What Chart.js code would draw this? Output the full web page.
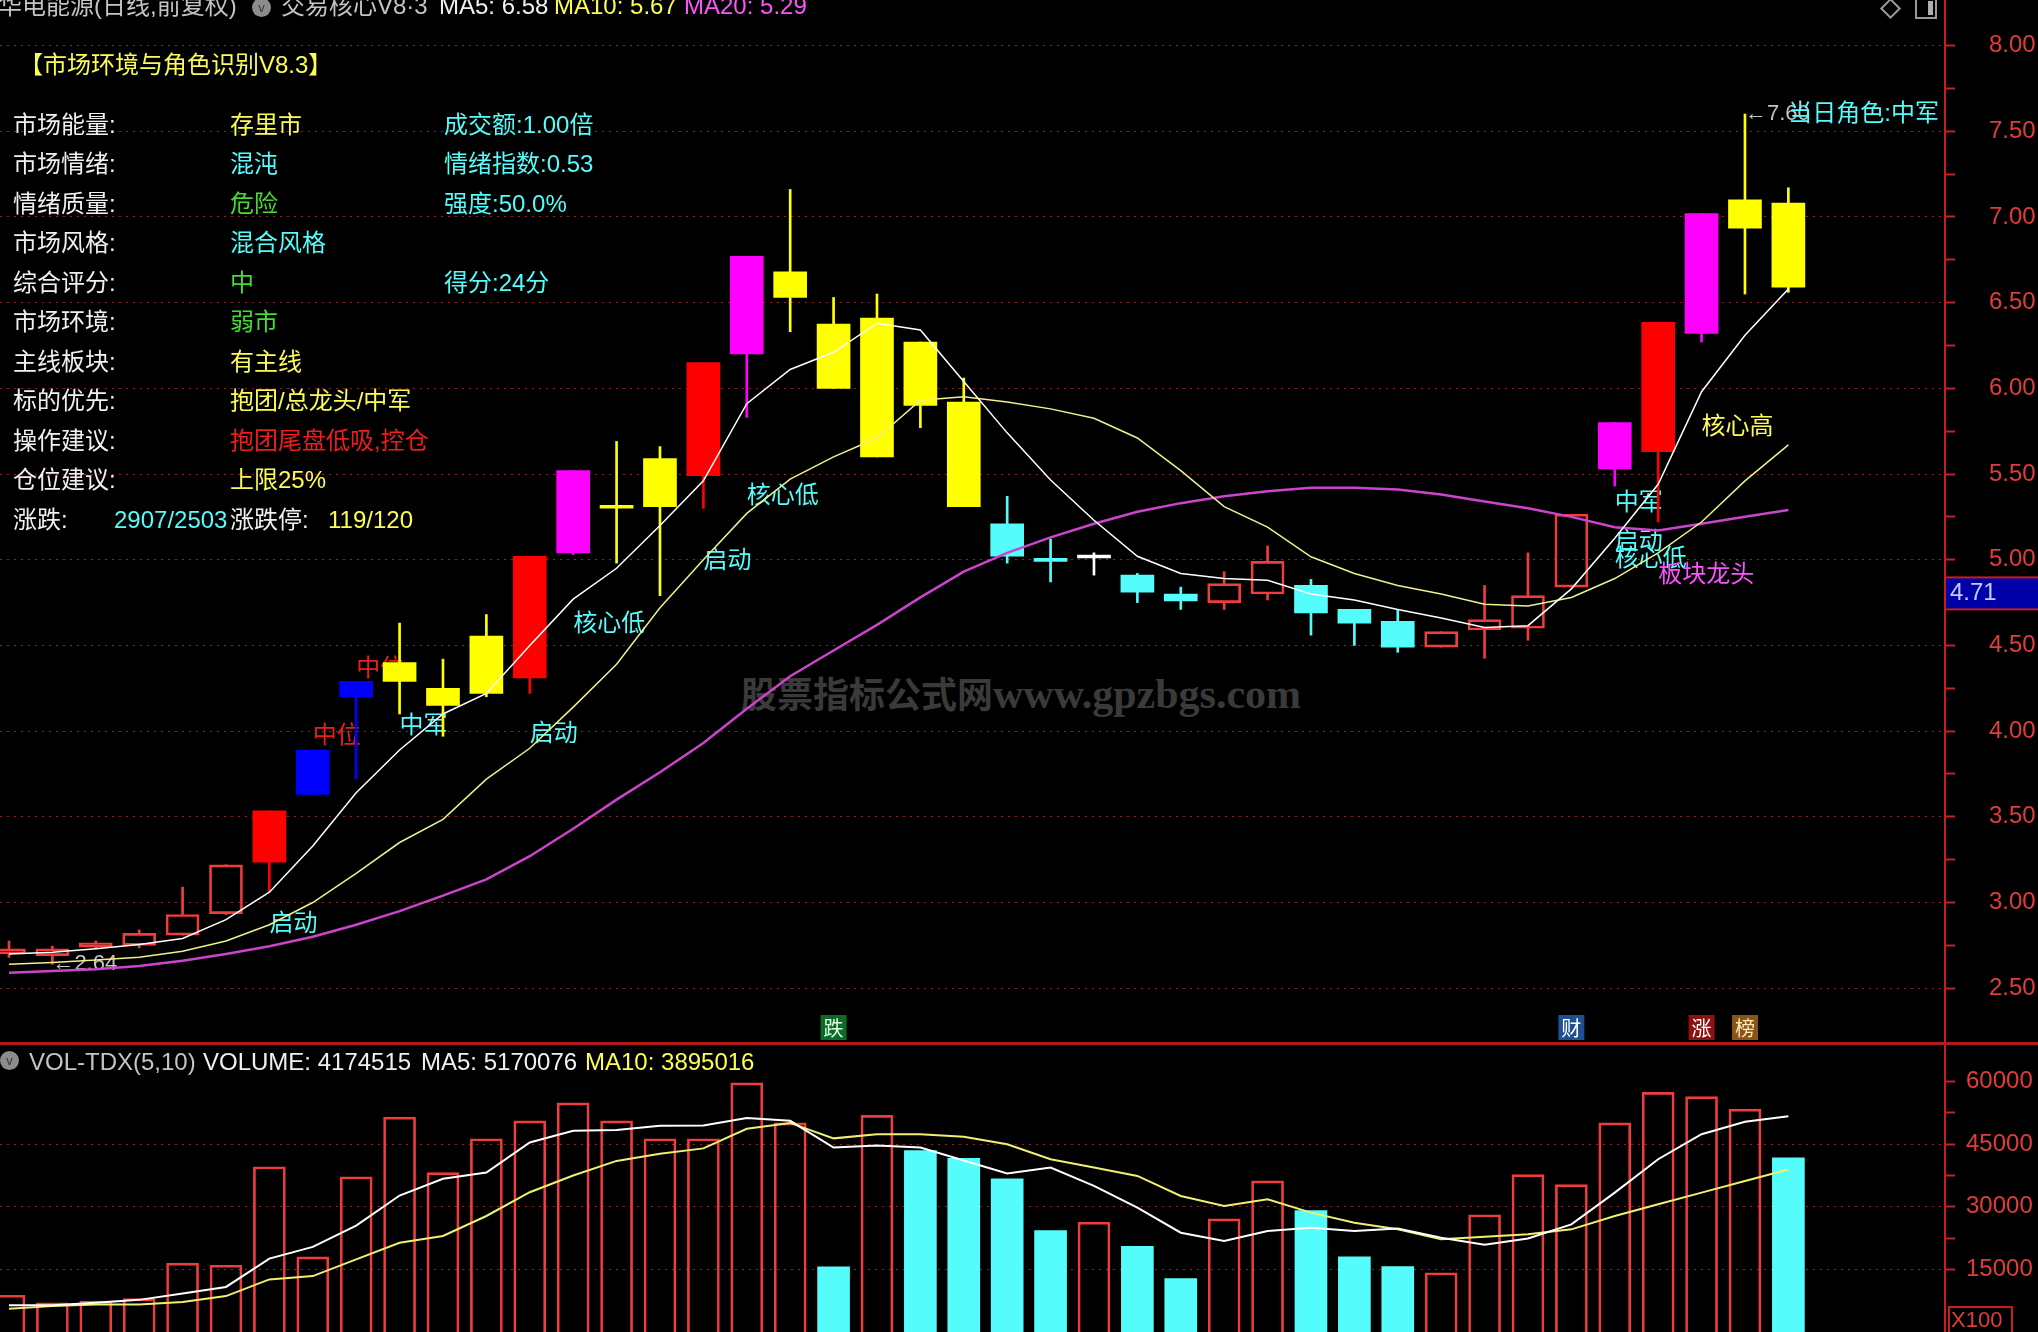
<!DOCTYPE html>
<html lang="zh-CN">
<head>
<meta charset="utf-8">
<title>华电能源 日线 · 交易核心V8·3</title>
<script src="https://cdn.jsdelivr.net/npm/chart.js@4.4.1/dist/chart.umd.min.js"></script>
<style>
    html, body { margin: 0; padding: 0; background: #000; }
    body {
        position: relative; width: 2038px; height: 1332px; overflow: hidden;
        font-family: "Liberation Sans", "Noto Sans CJK SC", sans-serif;
        font-size: 24px; line-height: 24px; color: #eeeeee;
    }
    .t { position: absolute; white-space: nowrap; }
    #price-canvas { position: absolute; left: 0; top: 0; }
    #vol-canvas { position: absolute; left: 0; top: 1043px; }
    .divider { position: absolute; left: 0; top: 1042px; width: 2038px; height: 3px; background: #b01c1c; }
    .watermark { position: absolute; left: 741px; top: 672px; color: #3a3a3a; font-weight: bold; white-space: nowrap; }
    .watermark .cjk { font-family: "Noto Sans CJK SC"; font-size: 36px; line-height: 40px; }
    .watermark .url { font-family: "Liberation Serif", serif; font-size: 42px; line-height: 40px; }
    .knob { position: absolute; width: 19px; height: 19px; border-radius: 50%; background: #8c8c8c;
            color: #3a3a3a; font-size: 13px; line-height: 19px; text-align: center; }
    .diamond { position: absolute; left: 1883px; top: 1px; width: 11px; height: 11px; border: 2px solid #9a9a9a; transform: rotate(45deg); }
    .winbox { position: absolute; left: 1915px; top: -3px; width: 18px; height: 18px; border: 2px solid #9a9a9a; }
    .winbox i { position: absolute; right: 2px; top: 2px; width: 5px; height: 14px; background: #b0b0b0; }
    .white { color: #f0f0f0; } .gray { color: #c4c4c4; }
    .yellow { color: #fcfc54; } .cyan { color: #54fcfc; } .green { color: #44dd33; }
    .red { color: #ee1c1c; } .magenta { color: #fc54fc; }
</style>
</head>
<body>

<div class="watermark"><span class="cjk">股票指标公式网</span><span class="url">www.gpzbgs.com</span></div>

<canvas id="price-canvas" width="2038" height="1043"></canvas>
<canvas id="vol-canvas" width="2038" height="289"></canvas>
<div class="divider"></div>

<!-- 主图标题 -->
<div class="t gray" style="left:-2px; top:-6px;">华电能源(日线,前复权)</div>
<div class="knob" style="left:252px; top:-2px;">v</div>
<div class="t gray" style="left:281px; top:-6px;">交易核心V8·3</div>
<div class="t white" style="left:439px; top:-6px;">MA5: 6.58</div>
<div class="t yellow" style="left:554px; top:-6px;">MA10: 5.67</div>
<div class="t magenta" style="left:684px; top:-6px;">MA20: 5.29</div>
<div class="diamond"></div>
<div class="winbox"><i></i></div>

<!-- 副图标题 -->
<div class="knob" style="left:0px; top:1051px;">v</div>
<div class="t gray" style="left:29px; top:1050px;">VOL-TDX(5,10)</div>
<div class="t white" style="left:203px; top:1050px;">VOLUME: 4174515</div>
<div class="t white" style="left:421px; top:1050px;">MA5: 5170076</div>
<div class="t yellow" style="left:585px; top:1050px;">MA10: 3895016</div>

<div id="panel"></div>

<script>
// --- 日线行情 (42 根K线) ---
const days = [1, 2, 3, 4, 5, 6, 7, 8, 9, 10, 11, 12, 13, 14, 15, 16, 17, 18, 19, 20, 21,
              22, 23, 24, 25, 26, 27, 28, 29, 30, 31, 32, 33, 34, 35, 36, 37, 38, 39, 40, 41, 42];

const openP  = [2.70, 2.69, 2.74, 2.75, 2.81, 2.935, 3.235, 3.63, 4.20, 4.29, 4.15, 4.22, 4.31, 5.04,
                5.30, 5.31, 5.49, 6.20, 6.53, 6.375, 5.60, 6.27, 5.92, 5.21, 5.00, 5.01, 4.91, 4.80,
                4.75, 4.80, 4.85, 4.71, 4.64, 4.49, 4.59, 4.60, 4.84, 5.53, 5.63, 6.32, 6.935, 7.08];
const highP  = [2.775, 2.745, 2.775, 2.84, 3.09, 3.22, 3.535, 3.89, 4.29, 4.63, 4.42, 4.68, 5.02, 5.52,
                5.69, 5.66, 6.15, 6.77, 7.16, 6.53, 6.55, 6.27, 6.06, 5.37, 5.12, 5.04, 4.92, 4.84,
                4.93, 5.08, 4.885, 4.71, 4.71, 4.58, 4.85, 5.04, 5.265, 5.80, 6.385, 7.02, 7.60, 7.17];
const lowP   = [2.68, 2.64, 2.73, 2.735, 2.81, 2.93, 3.06, 3.63, 3.72, 4.10, 3.97, 4.20, 4.22, 5.03,
                4.98, 4.79, 5.30, 5.83, 6.33, 6.00, 5.60, 5.77, 5.31, 4.98, 4.87, 4.91, 4.75, 4.71,
                4.71, 4.765, 4.56, 4.50, 4.46, 4.49, 4.425, 4.53, 4.84, 5.43, 5.22, 6.27, 6.55, 6.56];
const closeP = [2.73, 2.73, 2.765, 2.82, 2.93, 3.22, 3.535, 3.89, 4.29, 4.40, 4.25, 4.555, 5.02, 5.52,
                5.31, 5.59, 6.15, 6.77, 6.68, 6.00, 6.41, 5.90, 5.31, 5.02, 4.99, 5.01, 4.81, 4.76,
                4.86, 4.99, 4.69, 4.63, 4.49, 4.58, 4.65, 4.79, 5.265, 5.80, 6.385, 7.02, 7.10, 6.59];

// 指标着色: up=空心阳线, down=阴线, flat=平盘, 其余为角色颜色
const candleKind = ["up", "up", "up", "up", "up", "up", "red", "blue", "blue", "yellow", "yellow", "yellow",
                    "red", "magenta", "yellow", "yellow", "red", "magenta", "yellow", "yellow", "yellow",
                    "yellow", "yellow", "down", "down", "flat", "down", "down", "up", "up", "down", "down",
                    "down", "up", "up", "up", "up", "magenta", "red", "magenta", "yellow", "yellow"];

const ma5  = [2.70, 2.71, 2.73, 2.755, 2.79, 2.90, 3.06, 3.33, 3.64, 3.89, 4.10, 4.22, 4.50, 4.77,
              4.95, 5.20, 5.46, 5.91, 6.11, 6.21, 6.38, 6.34, 6.04, 5.74, 5.465, 5.23, 5.02, 4.92,
              4.89, 4.88, 4.80, 4.765, 4.71, 4.66, 4.605, 4.615, 4.83, 5.125, 5.44, 5.98, 6.31, 6.58];
const ma10 = [2.64, 2.65, 2.665, 2.68, 2.715, 2.775, 2.87, 3.00, 3.17, 3.35, 3.485, 3.72, 3.90, 4.14,
              4.39, 4.72, 5.00, 5.27, 5.47, 5.60, 5.71, 5.93, 5.95, 5.92, 5.88, 5.825, 5.71, 5.52,
              5.31, 5.19, 5.017, 4.92, 4.85, 4.80, 4.74, 4.73, 4.78, 4.89, 5.04, 5.22, 5.46, 5.67];
const ma20 = [2.59, 2.60, 2.61, 2.63, 2.66, 2.70, 2.745, 2.80, 2.87, 2.95, 3.04, 3.135, 3.27, 3.43,
              3.60, 3.76, 3.93, 4.13, 4.32, 4.47, 4.62, 4.78, 4.93, 5.04, 5.13, 5.21, 5.28, 5.33,
              5.37, 5.40, 5.42, 5.42, 5.41, 5.38, 5.34, 5.30, 5.25, 5.19, 5.17, 5.21, 5.25, 5.29];

// --- 成交量 (X100) ---
const volume  = [8800, 7000, 7400, 8000, 16500, 16000, 39600, 18000, 37200, 51500, 38200, 46300, 50600, 54900,
                 50600, 46300, 46300, 59700, 50100, 15600, 51900, 43500, 41600, 36700, 24300, 26300, 20500, 12800,
                 27100, 36200, 29100, 18000, 15700, 14200, 28100, 37700, 35300, 50100, 57400, 56400, 53400, 41745];
const volMa5  = [6400, 6400, 7000, 7700, 9200, 10800, 17600, 20400, 25500, 32700, 36700, 38200, 45400, 48200,
                 48400, 49400, 49500, 51300, 50600, 44200, 44700, 44200, 41100, 38000, 39400, 35000, 29800, 23800,
                 21800, 24200, 25000, 24200, 24800, 22600, 20900, 22400, 25800, 33400, 41400, 47400, 50400, 51700];
const volMa10 = [5600, 6200, 6600, 6600, 7200, 8600, 12600, 13400, 17400, 21400, 23000, 27800, 33500, 37500,
                 41000, 42700, 44000, 48700, 50100, 46400, 47400, 47400, 46800, 45000, 41400, 39400, 37400, 32600,
                 30200, 31800, 28600, 26200, 24600, 22200, 22800, 23400, 24600, 27800, 30600, 33400, 36200, 38950];

// --- 坐标刻度 ---
const priceTicks = [2.50, 3.00, 3.50, 4.00, 4.50, 5.00, 5.50, 6.00, 6.50, 7.00, 7.50, 8.00];
const priceMinorTicks = [2.75, 3.25, 3.75, 4.25, 4.75, 5.25, 5.75, 6.25, 6.75, 7.25, 7.75];
const volTicks = [15000, 30000, 45000, 60000];
const volMinorTicks = [22500, 37500, 52500];
const volGridTicks = [15000, 30000, 45000];
const cursorPrice = 4.71;

// --- 信号文字 ---
const signals = [
    { day: 7,  price: 2.87, text: "启动",     tone: "cyan" },
    { day: 8,  price: 3.97, text: "中位",     tone: "red" },
    { day: 9,  price: 4.36, text: "中位",     tone: "red" },
    { day: 10, price: 4.03, text: "中军",     tone: "cyan" },
    { day: 13, price: 3.98, text: "启动",     tone: "cyan" },
    { day: 14, price: 4.62, text: "核心低",   tone: "cyan" },
    { day: 17, price: 4.99, text: "启动",     tone: "cyan" },
    { day: 18, price: 5.37, text: "核心低",   tone: "cyan" },
    { day: 38, price: 5.33, text: "中军",     tone: "cyan" },
    { day: 38, price: 5.10, text: "启动",     tone: "cyan" },
    { day: 38, price: 5.00, text: "核心低",   tone: "cyan" },
    { day: 39, price: 4.91, text: "板块龙头", tone: "magenta" },
    { day: 40, price: 5.77, text: "核心高",   tone: "yellow" }
];
const extremes = [
    { day: 2,  price: 2.64, text: "←2.64" },
    { day: 41, price: 7.60, text: "←7.60" }
];
const roleNote = { day: 42, price: 7.60, text: "当日角色:中军" };
const badges = [
    { day: 20, text: "跌", tone: "green" },
    { day: 37, text: "财", tone: "blue" },
    { day: 40, text: "涨", tone: "red" },
    { day: 41, text: "榜", tone: "brown" }
];

// --- 左侧信息面板 ---
const panelTitle = "【市场环境与角色识别V8.3】";
const panelLabels = ["市场能量:", "市场情绪:", "情绪质量:", "市场风格:", "综合评分:", "市场环境:", "主线板块:", "标的优先:", "操作建议:", "仓位建议:"];
const panelValues = ["存里市", "混沌", "危险", "混合风格", "中", "弱市", "有主线", "抱团/总龙头/中军", "抱团尾盘低吸,控仓", "上限25%"];
const panelTones  = ["yellow", "cyan", "green", "cyan", "green", "green", "yellow", "yellow", "red", "yellow"];
const panelNotes  = ["成交额:1.00倍", "情绪指数:0.53", "强度:50.0%", "", "得分:24分", "", "", "", "", ""];
const breadth = { label: "涨跌:", value: "2907/2503", limitLabel: "涨跌停:", limitValue: "119/120" };

// --- 样式 ---
const toneColors = {
    cyan: "#54fcfc", red: "#ee1c1c", yellow: "#fcfc54", magenta: "#fc54fc", gray: "#c4c4c4"
};
const candleStyle = {
    up:      { fill: "rgba(0,0,0,0)", edge: "#f03c3c", border: 2 },
    down:    { fill: "#54fcfc", edge: "#54fcfc", border: 0 },
    flat:    { fill: "#ffffff", edge: "#ffffff", border: 0 },
    red:     { fill: "#ff0000", edge: "#ff0000", border: 0 },
    blue:    { fill: "#0000ff", edge: "#0000ff", border: 0 },
    yellow:  { fill: "#ffff00", edge: "#ffff00", border: 0 },
    magenta: { fill: "#ff00ff", edge: "#ff00ff", border: 0 }
};
const badgeStyle = {
    green: { bg: "#0d6b2a", color: "#dfffdf" },
    blue:  { bg: "#1f4f8f", color: "#ffffff" },
    red:   { bg: "#8c1212", color: "#ffffff" },
    brown: { bg: "#8a5514", color: "#ffe8c0" }
};
const AXIS_RED = "#c81e1e";
const GRID_RED = "#9a1e1e";
const LABEL_RED = "#e03c3c";
const X_MIN = -0.207, X_MAX = 44.609;

document.addEventListener("DOMContentLoaded", () => {
    renderPanel();
    initPriceChart();
    initVolumeChart();
});

function renderPanel() {
    const panel = document.getElementById("panel");
    let html = `<div class="t yellow" style="left:19px; top:53px;">${panelTitle}</div>`;
    panelLabels.forEach((label, i) => {
        const top = 112.5 + i * 39.5;
        html += `<div class="t white" style="left:13px; top:${top}px;">${label}</div>`;
        html += `<div class="t ${panelTones[i]}" style="left:230px; top:${top}px;">${panelValues[i]}</div>`;
        if (panelNotes[i]) html += `<div class="t cyan" style="left:444px; top:${top}px;">${panelNotes[i]}</div>`;
    });
    const top = 112.5 + 10 * 39.5;
    html += `<div class="t white" style="left:13px; top:${top}px;">${breadth.label}</div>`;
    html += `<div class="t cyan" style="left:114px; top:${top}px;">${breadth.value}</div>`;
    html += `<div class="t white" style="left:230px; top:${top}px;">${breadth.limitLabel}</div>`;
    html += `<div class="t yellow" style="left:328px; top:${top}px;">${breadth.limitValue}</div>`;
    panel.innerHTML = html;
}

const toXY = arr => arr.map((v, i) => ({ x: i, y: v }));

function rightAxis(min, max, major, minor, gridded, padding) {
    const all = major.concat(minor).sort((a, b) => a - b);
    return {
        position: "right", min, max, bounds: "data",
        afterBuildTicks: scale => { scale.ticks = all.map(v => ({ value: v })); },
        afterFit: scale => { scale.width = 93; scale.paddingTop = 0; scale.paddingBottom = 0; },
        border: { display: true, color: AXIS_RED, width: 2, dash: [2, 5] },
        grid: {
            drawOnChartArea: true, drawTicks: true, tickLength: 10, lineWidth: 1,
            color: c => gridded.includes(c.tick.value) ? GRID_RED : "rgba(0,0,0,0)",
            tickColor: AXIS_RED, tickWidth: 2, tickBorderDash: []
        },
        ticks: {
            autoSkip: false, padding, crossAlign: "near", color: LABEL_RED,
            font: { family: '"Liberation Sans", Arial', size: 24 },
            callback: v => major.includes(v) ? (max < 100 ? v.toFixed(2) : String(v)) : ""
        }
    };
}

// 信号文字 / 标记在K线之前绘制
const signalPlugin = {
    id: "signals",
    beforeDatasetsDraw(chart) {
        const { ctx, scales: { x, y } } = chart;
        ctx.save();
        ctx.textBaseline = "middle";
        ctx.textAlign = "left";
        ctx.font = '22px "Liberation Sans", "Noto Sans CJK SC"';
        ctx.fillStyle = toneColors.gray;
        extremes.forEach(e => ctx.fillText(e.text, x.getPixelForValue(e.day - 1), y.getPixelForValue(e.price)));
        ctx.font = '24px "Liberation Sans", "Noto Sans CJK SC"';
        signals.forEach(s => {
            ctx.fillStyle = toneColors[s.tone];
            ctx.fillText(s.text, x.getPixelForValue(s.day - 1), y.getPixelForValue(s.price));
        });
        ctx.fillStyle = toneColors.cyan;
        ctx.fillText(roleNote.text, x.getPixelForValue(roleNote.day - 1), y.getPixelForValue(roleNote.price));
        ctx.restore();
    },
    afterDraw(chart) {
        const { ctx, chartArea, scales: { x, y } } = chart;
        ctx.save();
        ctx.font = '20px "Noto Sans CJK SC"';
        ctx.textAlign = "center";
        ctx.textBaseline = "middle";
        badges.forEach(b => {
            const cx = x.getPixelForValue(b.day - 1);
            const st = badgeStyle[b.tone];
            ctx.fillStyle = st.bg;
            ctx.fillRect(cx - 13, chartArea.bottom - 28, 26, 25);
            ctx.fillStyle = st.color;
            ctx.fillText(b.text, cx, chartArea.bottom - 15);
        });
        // 当前价格标签
        const py = y.getPixelForValue(cursorPrice);
        ctx.fillStyle = "#0000a8";
        ctx.fillRect(chartArea.right + 1, py - 32, chart.width - chartArea.right, 32);
        ctx.fillStyle = AXIS_RED;
        ctx.fillRect(chartArea.right + 1, py - 33, chart.width - chartArea.right, 2);
        ctx.fillRect(chartArea.right + 1, py - 1, chart.width - chartArea.right, 2);
        ctx.fillStyle = "#c8c8ff";
        ctx.textAlign = "left";
        ctx.font = '24px "Liberation Sans"';
        ctx.fillText(cursorPrice.toFixed(2), chartArea.right + 5, py - 16);
        ctx.restore();
    }
};

function initPriceChart() {
    const kind = c => candleStyle[candleKind[c.dataIndex]];
    const bodyTop = days.map((d, i) => Math.max(openP[i], closeP[i]));
    const bodyBottom = days.map((d, i) => Math.min(openP[i], closeP[i]));

    new Chart(document.getElementById("price-canvas"), {
        type: "bar",
        data: {
            datasets: [
                { type: "line", label: "MA5", data: toXY(ma5), borderColor: "#ffffff", borderWidth: 1.5, pointRadius: 0, tension: 0, order: 0 },
                { type: "line", label: "MA10", data: toXY(ma10), borderColor: "#f0f08c", borderWidth: 1.5, pointRadius: 0, tension: 0, order: 0 },
                { type: "line", label: "MA20", data: toXY(ma20), borderColor: "#cc44cc", borderWidth: 2.5, pointRadius: 0, tension: 0, order: 0 },
                {
                    label: "实体",
                    data: days.map((d, i) => ({ x: i, y: [openP[i], closeP[i]] })),
                    grouped: false, barThickness: 33, minBarLength: 3, borderSkipped: false,
                    backgroundColor: c => kind(c).fill, borderColor: c => kind(c).edge, borderWidth: c => kind(c).border,
                    order: 1
                },
                {
                    label: "上影线",
                    data: days.map((d, i) => ({ x: i, y: [bodyTop[i], highP[i]] })),
                    grouped: false, barThickness: 2, borderWidth: 0,
                    backgroundColor: c => kind(c).edge, order: 2
                },
                {
                    label: "下影线",
                    data: days.map((d, i) => ({ x: i, y: [lowP[i], bodyBottom[i]] })),
                    grouped: false, barThickness: 2, borderWidth: 0,
                    backgroundColor: c => kind(c).edge, order: 2
                }
            ]
        },
        options: {
            responsive: false,
            animation: false,
            events: [],
            layout: { padding: 0 },
            plugins: { legend: { display: false }, tooltip: { enabled: false } },
            scales: {
                x: { type: "linear", min: X_MIN, max: X_MAX, display: false, offset: false },
                y: rightAxis(2.1803, 8.2655, priceTicks, priceMinorTicks, priceTicks, 34)
            }
        },
        plugins: [signalPlugin]
    });
}

const volumePlugin = {
    id: "x100",
    afterDraw(chart) {
        const { ctx, chartArea } = chart;
        ctx.save();
        ctx.strokeStyle = AXIS_RED;
        ctx.lineWidth = 2;
        ctx.strokeRect(chartArea.right + 4, chart.height - 25, 63, 26);
        ctx.fillStyle = LABEL_RED;
        ctx.font = '22px "Liberation Sans"';
        ctx.textBaseline = "middle";
        ctx.fillText("X100", chartArea.right + 6, chart.height - 11);
        ctx.restore();
    }
};

function initVolumeChart() {
    const rising = c => closeP[c.dataIndex] >= openP[c.dataIndex];

    new Chart(document.getElementById("vol-canvas"), {
        type: "bar",
        data: {
            datasets: [
                { type: "line", label: "MA5", data: toXY(volMa5), borderColor: "#ffffff", borderWidth: 2, pointRadius: 0, tension: 0, order: 0 },
                { type: "line", label: "MA10", data: toXY(volMa10), borderColor: "#f0f070", borderWidth: 2, pointRadius: 0, tension: 0, order: 0 },
                {
                    label: "VOLUME",
                    data: toXY(volume),
                    grouped: false, barThickness: 32, borderSkipped: "start",
                    backgroundColor: c => rising(c) ? "rgba(0,0,0,0)" : "#54fcfc",
                    borderColor: c => rising(c) ? "#f03c3c" : "#54fcfc",
                    borderWidth: c => rising(c) ? 2 : 0,
                    order: 1
                }
            ]
        },
        options: {
            responsive: false,
            animation: false,
            events: [],
            layout: { padding: 0 },
            plugins: { legend: { display: false }, tooltip: { enabled: false } },
            scales: {
                x: { type: "linear", min: X_MIN, max: X_MAX, display: false, offset: false },
                y: rightAxis(0, 69250, volTicks, volMinorTicks, volGridTicks, 11)
            }
        },
        plugins: [volumePlugin]
    });
}
</script>
</body>
</html>
